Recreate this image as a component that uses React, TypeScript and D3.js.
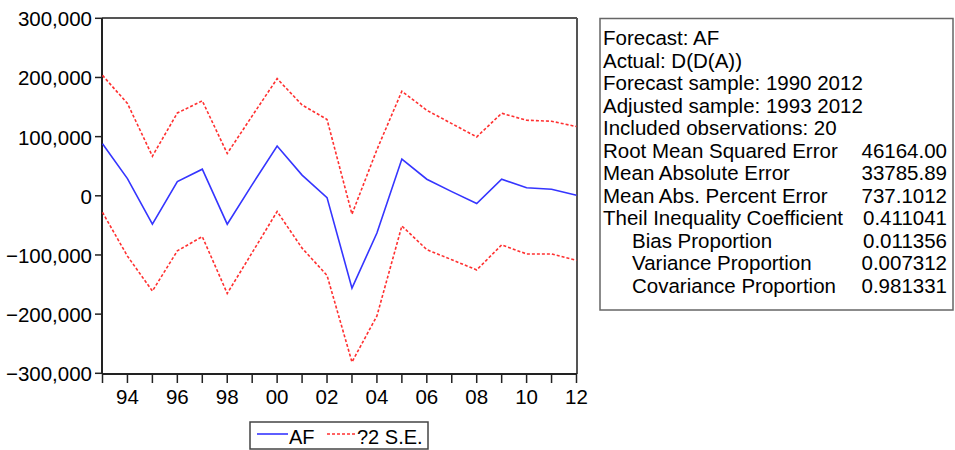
import React from "react";
import * as d3 from "d3";

const years = [1993, 1994, 1995, 1996, 1997, 1998, 1999, 2000, 2001, 2002, 2003, 2004, 2005, 2006, 2007, 2008, 2009, 2010, 2011, 2012];
const af = [88000, 29000, -48000, 24000, 45000, -48000, 19000, 84000, 35000, -3000, -156000, -63000, 62000, 28000, 7000, -13000, 28000, 13500, 11000, 1000];
const upperSE = [203500, 156000, 67000, 140000, 160500, 71500, 135000, 198000, 153500, 129000, -31000, 78000, 176800, 144500, 122000, 99500, 139500, 127700, 126000, 117000];
const lowerSE = [-28000, -102000, -161000, -93000, -69000, -165000, -96000, -26500, -88500, -134500, -281000, -203000, -51000, -91000, -108000, -125300, -83000, -98300, -98300, -109000];
const yTicks = [300000, 200000, 100000, 0, -100000, -200000, -300000];
const xLabelYears = [1994, 1996, 1998, 2000, 2002, 2004, 2006, 2008, 2010, 2012];
const headerLines = ["Forecast: AF", "Actual: D(D(A))", "Forecast sample: 1990 2012", "Adjusted sample: 1993 2012", "Included observations: 20"];
const statNames = ["Root Mean Squared Error", "Mean Absolute Error", "Mean Abs. Percent Error", "Theil Inequality Coefficient", "Bias Proportion", "Variance Proportion", "Covariance Proportion"];
const statValues = ["46164.00", "33785.89", "737.1012", "0.411041", "0.011356", "0.007312", "0.981331"];
const statIndent = [false, false, false, false, true, true, true];
const legendNames = ["AF", "?2 S.E."];

const FONT = "'Liberation Sans', Arial, sans-serif";

export default function App() {
  const x = d3.scaleLinear().domain([1993, 2012]).range([102.5, 576.5]);
  const y = d3.scaleLinear().domain([-300000, 300000]).range([373.3, 18.3]);
  const line = (vals: number[]) =>
    d3.line<number>().x((_, i) => x(years[i])).y((v) => y(v))(vals) || "";
  const fmt = d3.format(",");
  const plotL = 102, plotR = 577, plotT = 18, plotB = 374;
  const lh = 22.5;
  return (
    <svg width={955} height={450} style={{ position: "absolute", left: 0, top: 0, background: "#fff" }} fontFamily={FONT}>
      <rect x={0} y={0} width={955} height={450} fill="#fff" />
      {/* frame */}
      <line x1={plotL} y1={plotT} x2={plotR} y2={plotT} stroke="#555" strokeWidth={2} />
      <line x1={plotR} y1={plotT} x2={plotR} y2={plotB} stroke="#555" strokeWidth={2} />
      <line x1={plotL} y1={plotT} x2={plotL} y2={plotB} stroke="#222" strokeWidth={2} />
      <line x1={plotL} y1={plotB} x2={plotR} y2={plotB} stroke="#222" strokeWidth={2} />
      {/* y ticks */}
      {yTicks.map((t) => (
        <g key={t}>
          <line x1={95} x2={plotL} y1={y(t)} y2={y(t)} stroke="#222" strokeWidth={1.5} />
          <text x={92} y={y(t) + 8} textAnchor="end" fontSize={20.5} fill="#000">{fmt(t)}</text>
        </g>
      ))}
      {/* x ticks */}
      {years.map((yr) => (
        <line key={yr} x1={x(yr)} x2={x(yr)} y1={plotB} y2={383} stroke="#222" strokeWidth={1.5} />
      ))}
      {xLabelYears.map((yr) => (
        <text key={yr} x={x(yr)} y={404} textAnchor="middle" fontSize={20.5} fill="#000">
          {String(yr % 100).padStart(2, "0")}
        </text>
      ))}
      {/* series */}
      <path d={line(upperSE)} fill="none" stroke="#ff3030" strokeWidth={1.6} strokeDasharray="3,2" />
      <path d={line(lowerSE)} fill="none" stroke="#ff3030" strokeWidth={1.6} strokeDasharray="3,2" />
      <path d={line(af)} fill="none" stroke="#3535ff" strokeWidth={1.6} />
      {/* legend */}
      <rect x={250} y={422} width={178} height={27} fill="#fff" stroke="#444" strokeWidth={1.5} />
      <line x1={257} x2={288} y1={434} y2={434} stroke="#3535ff" strokeWidth={1.6} />
      <text x={289} y={443.5} fontSize={20} fill="#000">{legendNames[0]}</text>
      <line x1={327} x2={357} y1={434} y2={434} stroke="#ff3030" strokeWidth={1.6} strokeDasharray="3,2" />
      <text x={357} y={443.5} fontSize={20} fill="#000">{legendNames[1]}</text>
      {/* stats box */}
      <rect x={600} y={18.5} width={353} height={291.5} fill="#fff" stroke="#666" strokeWidth={1.5} />
      {headerLines.map((s, i) => (
        <text key={s} x={603} y={45 + i * lh} fontSize={20.5} fill="#000">{s}</text>
      ))}
      {statNames.map((s, i) => (
        <g key={s}>
          <text x={statIndent[i] ? 632 : 603} y={45 + (i + headerLines.length) * lh} fontSize={20.5} fill="#000">{s}</text>
          <text x={947} y={45 + (i + headerLines.length) * lh} textAnchor="end" fontSize={20.5} fill="#000">{statValues[i]}</text>
        </g>
      ))}
    </svg>
  );
}
